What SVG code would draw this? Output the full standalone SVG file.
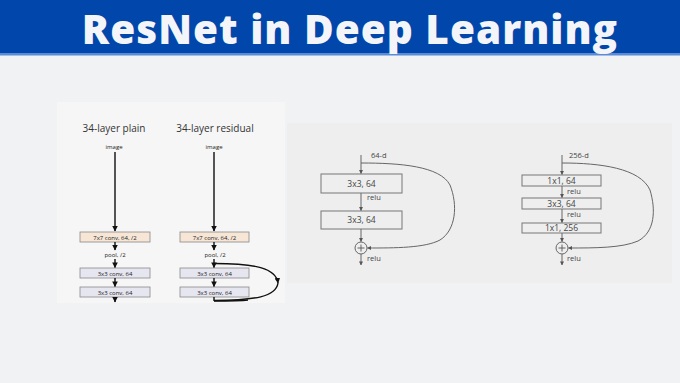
<svg xmlns="http://www.w3.org/2000/svg" width="680" height="383" viewBox="0 0 680 383">
<defs>
<style>
.t{font-family:"Open Sans","Liberation Sans",sans-serif;fill:#222}
.sm{font-size:6px;text-anchor:middle}
.hd{font-size:10px;text-anchor:middle;fill:#333}
.lb{font-size:7.5px;fill:#444}
.bx{font-size:8.5px;fill:#444;text-anchor:middle}
.bk{stroke:#111;stroke-width:1.4;fill:none}
.gr{stroke:#666;stroke-width:1;fill:none}
.pe{fill:#F7E6D6;stroke:#888;stroke-width:0.8}
.lv{fill:#E6E6F0;stroke:#888;stroke-width:0.8}
.gb{fill:#EEEEEE;stroke:#777;stroke-width:1}
</style>
<marker id="ab" viewBox="0 0 10 10" refX="9" refY="5" markerWidth="4" markerHeight="4" orient="auto"><path d="M0,0 L10,5 L0,10 z" fill="#111"/></marker>
<marker id="ag" viewBox="0 0 10 10" refX="9" refY="5" markerWidth="4" markerHeight="4" orient="auto"><path d="M0,0 L10,5 L0,10 z" fill="#555"/></marker>
</defs>
<rect width="680" height="383" fill="#F1F2F3"/>
<rect width="680" height="54" fill="#0046AB"/>
<rect y="53" width="680" height="2.5" fill="#5B8BD6"/>
<text x="350" y="43.5" font-family="'Open Sans','Liberation Sans',sans-serif" font-weight="800" font-size="40.5" letter-spacing="1" fill="#F3F5F8" text-anchor="middle">ResNet in Deep Learning</text>
<rect x="57" y="102" width="228" height="201" fill="#F6F6F6"/>
<rect x="287" y="123" width="385" height="160" fill="#EEEEEE"/>

<g id="plain">
<text class="t hd" x="114" y="132">34-layer plain</text>
<text class="t sm" x="114" y="149">image</text>
<g id="p-conv7"><rect class="pe" x="80" y="232" width="70" height="10"/><text class="t sm" x="115" y="239.5">7x7 conv, 64, /2</text></g>
<text class="t sm" x="115" y="257">pool, /2</text>
<g id="p-conv3a"><rect class="lv" x="80" y="268" width="70" height="10"/><text class="t sm" x="115" y="275.5">3x3 conv, 64</text></g>
<g id="p-conv3b"><rect class="lv" x="80" y="287" width="70" height="10"/><text class="t sm" x="115" y="294.5">3x3 conv, 64</text></g>
</g>

<g id="residual">
<text class="t hd" x="215" y="132">34-layer residual</text>
<text class="t sm" x="214" y="149">image</text>
<g id="r-conv7"><rect class="pe" x="180" y="232" width="69" height="10"/><text class="t sm" x="214.5" y="239.5">7x7 conv, 64, /2</text></g>
<text class="t sm" x="215" y="257">pool, /2</text>
<g id="r-conv3a"><rect class="lv" x="180" y="268" width="69" height="10"/><text class="t sm" x="214.5" y="275.5">3x3 conv, 64</text></g>
<g id="r-conv3b"><rect class="lv" x="180" y="287" width="69" height="10"/><text class="t sm" x="214.5" y="294.5">3x3 conv, 64</text></g>
</g>

<g id="block64">
<text class="t lb" x="371" y="158">64-d</text>
<g id="b1-a"><rect class="gb" x="321" y="174" width="81" height="19"/><text class="t bx" x="361.5" y="186.5">3x3, 64</text></g>
<text class="t lb" x="367" y="200">relu</text>
<g id="b1-b"><rect class="gb" x="321" y="211" width="81" height="18"/><text class="t bx" x="361.5" y="223">3x3, 64</text></g>
<g id="b1-add"><circle cx="361" cy="248" r="6" fill="#EEEEEE" stroke="#666" stroke-width="1"/><path d="M357.5,248 H364.5 M361,244.5 V251.5" stroke="#555" stroke-width="0.9"/></g>
<text class="t lb" x="367" y="261">relu</text>
</g>

<g id="block256">
<text class="t lb" x="569" y="158">256-d</text>
<g id="b2-a"><rect class="gb" x="522" y="175" width="79" height="11"/><text class="t bx" x="561.5" y="183.5">1x1, 64</text></g>
<text class="t lb" x="567" y="193.5">relu</text>
<g id="b2-b"><rect class="gb" x="522" y="198" width="79" height="11"/><text class="t bx" x="561.5" y="206.5">3x3, 64</text></g>
<text class="t lb" x="567" y="216.5">relu</text>
<g id="b2-c"><rect class="gb" x="522" y="223" width="79" height="10"/><text class="t bx" x="561.5" y="231">1x1, 256</text></g>
<g id="b2-add"><circle cx="562" cy="248" r="6" fill="#EEEEEE" stroke="#666" stroke-width="1"/><path d="M558.5,248 H565.5 M562,244.5 V251.5" stroke="#555" stroke-width="0.9"/></g>
<text class="t lb" x="567" y="261">relu</text>
</g>

<g id="connectors">
<path class="bk" d="M115,152 V231" marker-end="url(#ab)"/>
<path class="bk" d="M115,242 V250" marker-end="url(#ab)"/>
<path class="bk" d="M115,259 V267.5" marker-end="url(#ab)"/>
<path class="bk" d="M115,278 V286.5" marker-end="url(#ab)"/>
<path class="bk" d="M115,297 V302" marker-end="url(#ab)"/>
<path class="bk" d="M214,152 V231" marker-end="url(#ab)"/>
<path class="bk" d="M214,242 V250" marker-end="url(#ab)"/>
<path class="bk" d="M214,259 V267.5" marker-end="url(#ab)"/>
<path class="bk" d="M214,278 V286.5" marker-end="url(#ab)"/>
<path class="bk" d="M214,297 V301"/>
<path class="bk" d="M214,263.5 C255,263.5 276,268 278,283" marker-end="url(#ab)"/>
<path class="bk" d="M278,283 C276,297 255,300 214,300.5"/>
<path class="bk" d="M214,301 C230,301 240,301 248,300" stroke-width="0.8"/>

<path class="gr" d="M361,155 V173.5" marker-end="url(#ag)"/>
<path class="gr" d="M361,193 V210.5" marker-end="url(#ag)"/>
<path class="gr" d="M361,229 V241.5" marker-end="url(#ag)"/>
<path class="gr" d="M361,254 V265" marker-end="url(#ag)"/>
<path class="gr" d="M361,163 C400,163 440,166 450,185 C458,205 456,230 440,240 C425,248 395,248 367.5,248" marker-end="url(#ag)"/>

<path class="gr" d="M562,155 V174.5" marker-end="url(#ag)"/>
<path class="gr" d="M562,186 V197.5" marker-end="url(#ag)"/>
<path class="gr" d="M562,209 V222.5" marker-end="url(#ag)"/>
<path class="gr" d="M562,233 V241.5" marker-end="url(#ag)"/>
<path class="gr" d="M562,254 V265" marker-end="url(#ag)"/>
<path class="gr" d="M562,163 C600,163 640,168 650,190 C656,210 655,232 638,241 C622,248 595,248 568.5,248" marker-end="url(#ag)"/>
</g>
</svg>
